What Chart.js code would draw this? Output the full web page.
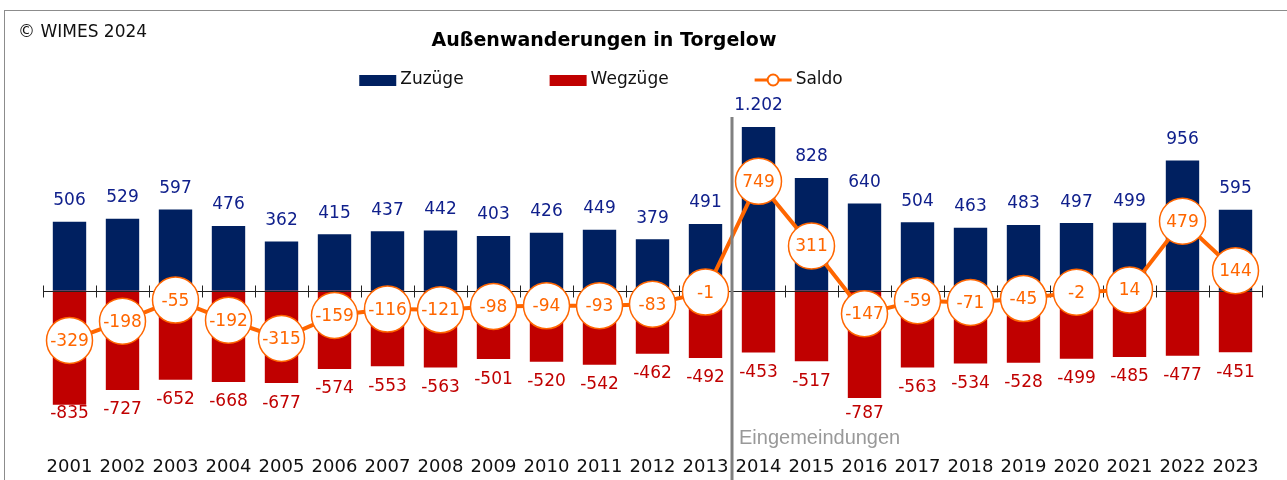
<!DOCTYPE html>
<html lang="de">
<head>
<meta charset="utf-8">
<title>Außenwanderungen in Torgelow</title>
<script src="https://cdn.jsdelivr.net/npm/chart.js@4.4.1/dist/chart.umd.min.js"></script>
<style>
  html, body { margin: 0; padding: 0; background: #fff; }
  #wrap { width: 1287px; height: 480px; }
</style>
</head>
<body>
<div id="wrap"><canvas id="chart" width="1287" height="480"></canvas></div>
<script>
// Daten
const jahre = ["2001", "2002", "2003", "2004", "2005", "2006", "2007", "2008", "2009", "2010", "2011", "2012",
    "2013", "2014", "2015", "2016", "2017", "2018", "2019", "2020", "2021", "2022", "2023"];
const zuzuege = [506, 529, 597, 476, 362, 415, 437, 442, 403, 426, 449, 379, 491,
    1202, 828, 640, 504, 463, 483, 497, 499, 956, 595];
const wegzuege = [-835, -727, -652, -668, -677, -574, -553, -563, -501, -520, -542, -462, -492,
    -453, -517, -787, -563, -534, -528, -499, -485, -477, -451];
const saldo = [-329, -198, -55, -192, -315, -159, -116, -121, -98, -94, -93, -83, -1,
    749, 311, -147, -59, -71, -45, -2, 14, 479, 144];

const NAVY = "#002060";
const ROT = "#c00000";
const ORANGE = "#ff6600";
const SCHRIFT = "'DejaVu Sans', Verdana, sans-serif";

// Tausenderpunkt wie im Original (1.202)
function fmt(v) {
    return String(v).replace(/\B(?=(\d{3})+(?!\d))/g, ".");
}

const beschriftung = {
    id: "beschriftung",
    // Nulllinie mit Strichen: ueber den Balken, unter der Saldo-Linie
    beforeDatasetDraw(chart, args) {
        if (args.index !== 2) return;
        const { ctx, chartArea } = chart;
        const y0 = Math.round(chart.scales.y.getPixelForValue(0)) + 0.5;
        const w = (chartArea.right - chartArea.left) / jahre.length;
        ctx.save();
        ctx.strokeStyle = "#222";
        ctx.lineWidth = 1;
        ctx.beginPath();
        ctx.moveTo(chartArea.left, y0);
        ctx.lineTo(chartArea.right, y0);
        for (let i = 0; i <= jahre.length; i++) {
            const xt = Math.round(chartArea.left + i * w) + 0.5;
            ctx.moveTo(xt, y0 - 6);
            ctx.lineTo(xt, y0 + 6);
        }
        ctx.stroke();
        ctx.restore();
    },
    afterDatasetsDraw(chart) {
        const ctx = chart.ctx;
        ctx.save();
        ctx.textAlign = "center";
        ctx.textBaseline = "middle";

        // Zuzuege ueber den Balken
        ctx.font = "17px " + SCHRIFT;
        ctx.fillStyle = "#10208c";
        chart.getDatasetMeta(0).data.forEach((el, i) => {
            ctx.fillText(fmt(zuzuege[i]), el.x, el.y - 21);
        });

        // Wegzuege unter den Balken
        ctx.fillStyle = "#c00000";
        chart.getDatasetMeta(1).data.forEach((el, i) => {
            ctx.fillText(fmt(wegzuege[i]), el.x, Math.min(el.y + 20, 414));
        });

        // Saldo in den Kreisen
        ctx.font = "17px " + SCHRIFT;
        ctx.fillStyle = ORANGE;
        chart.getDatasetMeta(2).data.forEach((el, i) => {
            ctx.fillText(fmt(saldo[i]), el.x, el.y + 1);
        });
        ctx.restore();
    },
    afterDraw(chart) {
        const ctx = chart.ctx;
        const x = chart.scales.x;
        ctx.save();

        // Rahmen
        ctx.strokeStyle = "#8c8c8c";
        ctx.lineWidth = 1;
        ctx.strokeRect(4.5, 10.5, 1400, 600);

        // Trennlinie Eingemeindungen
        const xs = Math.round((x.getPixelForValue(12) + x.getPixelForValue(13)) / 2);
        ctx.strokeStyle = "#808080";
        ctx.lineWidth = 3;
        ctx.beginPath();
        ctx.moveTo(xs, 117);
        ctx.lineTo(xs, 480);
        ctx.stroke();

        ctx.fillStyle = "#999";
        ctx.font = "20px 'Liberation Sans', Arial, sans-serif";
        ctx.textAlign = "left";
        ctx.textBaseline = "middle";
        ctx.fillText("Eingemeindungen", xs + 7, 438);

        // Copyright
        ctx.fillStyle = "#111";
        ctx.font = "17px " + SCHRIFT;
        ctx.fillText("© WIMES 2024", 18, 33);

        // Titel
        ctx.fillStyle = "#000";
        ctx.font = "bold 19px " + SCHRIFT;
        ctx.textAlign = "center";
        ctx.fillText("Außenwanderungen in Torgelow", 604, 41);

        // Legende
        ctx.font = "17px " + SCHRIFT;
        ctx.textAlign = "left";
        const symW = 37, gap = 4, abstand = 86, ly = 80;
        const ds = chart.data.datasets;
        const breiten = ds.map(d => symW + gap + ctx.measureText(d.label).width);
        const gesamt = breiten.reduce((a, b) => a + b, 0) + abstand * (ds.length - 1);
        let lx = 601 - gesamt / 2;
        ds.forEach((d, i) => {
            if (d.type === "line") {
                ctx.strokeStyle = d.borderColor;
                ctx.lineWidth = 3;
                ctx.beginPath();
                ctx.moveTo(lx, ly);
                ctx.lineTo(lx + symW, ly);
                ctx.stroke();
                ctx.beginPath();
                ctx.arc(lx + symW / 2, ly, 5.5, 0, Math.PI * 2);
                ctx.fillStyle = "#fff";
                ctx.fill();
                ctx.lineWidth = 2;
                ctx.stroke();
            } else {
                ctx.fillStyle = d.backgroundColor;
                ctx.fillRect(lx, ly - 5, symW, 11);
            }
            ctx.fillStyle = "#111";
            ctx.fillText(d.label, lx + symW + gap, ly);
            lx += breiten[i] + abstand;
        });

        ctx.restore();
    }
};

new Chart(document.getElementById("chart"), {
    type: "bar",
    data: {
        labels: jahre,
        datasets: [
            {
                label: "Zuzüge",
                data: zuzuege,
                backgroundColor: NAVY,
                yAxisID: "y",
                order: 2,
                barPercentage: 0.63,
                categoryPercentage: 1,
            },
            {
                label: "Wegzüge",
                data: wegzuege,
                backgroundColor: ROT,
                yAxisID: "y",
                order: 1,
                barPercentage: 0.63,
                categoryPercentage: 1,
            },
            {
                type: "line",
                label: "Saldo",
                data: saldo,
                yAxisID: "y2",
                order: 0,
                borderColor: ORANGE,
                borderWidth: 4,
                tension: 0,
                pointRadius: 23,
                pointHoverRadius: 23,
                pointBackgroundColor: "#fff",
                pointBorderColor: ORANGE,
                pointBorderWidth: 1.5,
                clip: false,
            },
        ],
    },
    options: {
        responsive: false,
        animation: false,
        devicePixelRatio: 1,
        layout: { padding: { left: 43, right: 25, top: 100, bottom: 0 } },
        plugins: {
            legend: { display: false },
            title: { display: false },
            tooltip: { enabled: false },
        },
        scales: {
            x: {
                stacked: true,
                grid: { display: false, drawTicks: false },
                border: { display: false },
                ticks: {
                    autoSkip: false,
                    maxRotation: 0,
                    padding: 2,
                    color: "#111",
                    font: { family: SCHRIFT, size: 18 },
                },
            },
            y: { stacked: true, display: false, min: -1200, max: 1400 },
            y2: { display: false, min: -1100, max: 1300 },
        },
    },
    plugins: [beschriftung],
});
</script>
</body>
</html>
